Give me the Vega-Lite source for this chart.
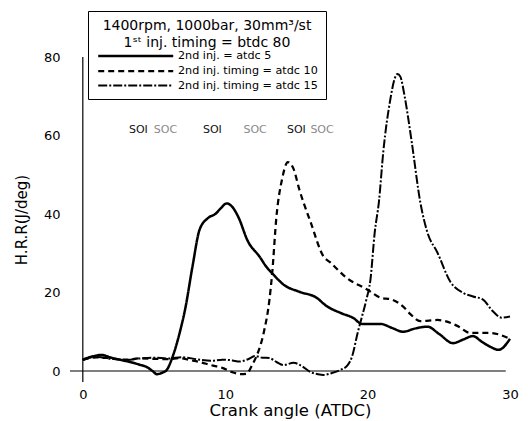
{
  "$schema": "https://vega.github.io/schema/vega-lite/v6.json",
  "width": 440,
  "height": 325,
  "autosize": {"type": "none"},
  "padding": {"left": 70, "top": 57, "right": 18, "bottom": 39},
  "background": "white",
  "config": {
    "view": {"stroke": null},
    "font": "DejaVu Sans"
  },
  "datasets": {
    "axisLines": [
      {"angle": 0, "angle2": 0, "hrr": -2.8, "hrr2": 80},
      {"angle": -0.9, "angle2": 29.7, "hrr": 0, "hrr2": 0}
    ],
    "curves": [
      {"series": "2nd inj. = atdc 5", "angle": 0, "hrr": 2.8},
      {"series": "2nd inj. = atdc 5", "angle": 0.3, "hrr": 3.3},
      {"series": "2nd inj. = atdc 5", "angle": 0.8, "hrr": 3.8},
      {"series": "2nd inj. = atdc 5", "angle": 1.3, "hrr": 4.1},
      {"series": "2nd inj. = atdc 5", "angle": 2, "hrr": 3.4},
      {"series": "2nd inj. = atdc 5", "angle": 2.7, "hrr": 2.8},
      {"series": "2nd inj. = atdc 5", "angle": 3.3, "hrr": 2.3},
      {"series": "2nd inj. = atdc 5", "angle": 4, "hrr": 1.6},
      {"series": "2nd inj. = atdc 5", "angle": 4.5, "hrr": 1.0},
      {"series": "2nd inj. = atdc 5", "angle": 4.9, "hrr": 0},
      {"series": "2nd inj. = atdc 5", "angle": 5.2, "hrr": -0.8},
      {"series": "2nd inj. = atdc 5", "angle": 5.6, "hrr": -0.4},
      {"series": "2nd inj. = atdc 5", "angle": 5.9, "hrr": 0.3},
      {"series": "2nd inj. = atdc 5", "angle": 6.3, "hrr": 3.6},
      {"series": "2nd inj. = atdc 5", "angle": 6.8, "hrr": 9.7},
      {"series": "2nd inj. = atdc 5", "angle": 7.2, "hrr": 16},
      {"series": "2nd inj. = atdc 5", "angle": 7.7, "hrr": 26.6},
      {"series": "2nd inj. = atdc 5", "angle": 8.2, "hrr": 36},
      {"series": "2nd inj. = atdc 5", "angle": 8.8, "hrr": 39},
      {"series": "2nd inj. = atdc 5", "angle": 9.3, "hrr": 40},
      {"series": "2nd inj. = atdc 5", "angle": 9.7, "hrr": 41.5},
      {"series": "2nd inj. = atdc 5", "angle": 10.1, "hrr": 42.7},
      {"series": "2nd inj. = atdc 5", "angle": 10.5, "hrr": 41.8},
      {"series": "2nd inj. = atdc 5", "angle": 10.9, "hrr": 39.4},
      {"series": "2nd inj. = atdc 5", "angle": 11.6, "hrr": 33},
      {"series": "2nd inj. = atdc 5", "angle": 12.4, "hrr": 29.2},
      {"series": "2nd inj. = atdc 5", "angle": 12.9, "hrr": 26.5},
      {"series": "2nd inj. = atdc 5", "angle": 13.4, "hrr": 24.5},
      {"series": "2nd inj. = atdc 5", "angle": 14.1, "hrr": 22},
      {"series": "2nd inj. = atdc 5", "angle": 15.2, "hrr": 20.2},
      {"series": "2nd inj. = atdc 5", "angle": 16.4, "hrr": 18.7},
      {"series": "2nd inj. = atdc 5", "angle": 17.1, "hrr": 16.6},
      {"series": "2nd inj. = atdc 5", "angle": 18.1, "hrr": 14.8},
      {"series": "2nd inj. = atdc 5", "angle": 19.0, "hrr": 13.5},
      {"series": "2nd inj. = atdc 5", "angle": 19.6, "hrr": 12},
      {"series": "2nd inj. = atdc 5", "angle": 20.9, "hrr": 12},
      {"series": "2nd inj. = atdc 5", "angle": 21.7, "hrr": 11},
      {"series": "2nd inj. = atdc 5", "angle": 22.5, "hrr": 10},
      {"series": "2nd inj. = atdc 5", "angle": 23.3, "hrr": 10.8},
      {"series": "2nd inj. = atdc 5", "angle": 24.2, "hrr": 11.3},
      {"series": "2nd inj. = atdc 5", "angle": 25, "hrr": 9.5},
      {"series": "2nd inj. = atdc 5", "angle": 26, "hrr": 7.1},
      {"series": "2nd inj. = atdc 5", "angle": 26.7, "hrr": 8.0},
      {"series": "2nd inj. = atdc 5", "angle": 27.4, "hrr": 8.9},
      {"series": "2nd inj. = atdc 5", "angle": 28, "hrr": 7.5},
      {"series": "2nd inj. = atdc 5", "angle": 28.6, "hrr": 6.2},
      {"series": "2nd inj. = atdc 5", "angle": 29.2, "hrr": 5.4},
      {"series": "2nd inj. = atdc 5", "angle": 30, "hrr": 8.2},

      {"series": "2nd inj. timing = atdc 10", "angle": 0, "hrr": 2.8},
      {"series": "2nd inj. timing = atdc 10", "angle": 1, "hrr": 3.5},
      {"series": "2nd inj. timing = atdc 10", "angle": 2, "hrr": 3.2},
      {"series": "2nd inj. timing = atdc 10", "angle": 3, "hrr": 2.9},
      {"series": "2nd inj. timing = atdc 10", "angle": 4, "hrr": 3.2},
      {"series": "2nd inj. timing = atdc 10", "angle": 5, "hrr": 3.1},
      {"series": "2nd inj. timing = atdc 10", "angle": 6, "hrr": 3.0},
      {"series": "2nd inj. timing = atdc 10", "angle": 6.8, "hrr": 3.3},
      {"series": "2nd inj. timing = atdc 10", "angle": 7.5, "hrr": 2.8},
      {"series": "2nd inj. timing = atdc 10", "angle": 8.2, "hrr": 2.3},
      {"series": "2nd inj. timing = atdc 10", "angle": 9, "hrr": 1.5},
      {"series": "2nd inj. timing = atdc 10", "angle": 9.8, "hrr": 0.8},
      {"series": "2nd inj. timing = atdc 10", "angle": 10.5, "hrr": -0.3},
      {"series": "2nd inj. timing = atdc 10", "angle": 11.1, "hrr": -0.8},
      {"series": "2nd inj. timing = atdc 10", "angle": 11.5, "hrr": -0.7},
      {"series": "2nd inj. timing = atdc 10", "angle": 11.9, "hrr": 1.6},
      {"series": "2nd inj. timing = atdc 10", "angle": 12.2, "hrr": 3.8},
      {"series": "2nd inj. timing = atdc 10", "angle": 12.7, "hrr": 9.7},
      {"series": "2nd inj. timing = atdc 10", "angle": 13.1, "hrr": 18},
      {"series": "2nd inj. timing = atdc 10", "angle": 13.3, "hrr": 25},
      {"series": "2nd inj. timing = atdc 10", "angle": 13.6, "hrr": 39.4},
      {"series": "2nd inj. timing = atdc 10", "angle": 14.0, "hrr": 49},
      {"series": "2nd inj. timing = atdc 10", "angle": 14.4, "hrr": 53.2},
      {"series": "2nd inj. timing = atdc 10", "angle": 14.8, "hrr": 51.5},
      {"series": "2nd inj. timing = atdc 10", "angle": 15.2, "hrr": 46.3},
      {"series": "2nd inj. timing = atdc 10", "angle": 16.0, "hrr": 37.9},
      {"series": "2nd inj. timing = atdc 10", "angle": 16.9, "hrr": 29.2},
      {"series": "2nd inj. timing = atdc 10", "angle": 17.4, "hrr": 27.6},
      {"series": "2nd inj. timing = atdc 10", "angle": 18.5, "hrr": 23.8},
      {"series": "2nd inj. timing = atdc 10", "angle": 20, "hrr": 20.7},
      {"series": "2nd inj. timing = atdc 10", "angle": 20.9, "hrr": 18.7},
      {"series": "2nd inj. timing = atdc 10", "angle": 21.7, "hrr": 18.2},
      {"series": "2nd inj. timing = atdc 10", "angle": 22.5, "hrr": 16.4},
      {"series": "2nd inj. timing = atdc 10", "angle": 23.0, "hrr": 14.5},
      {"series": "2nd inj. timing = atdc 10", "angle": 23.7, "hrr": 12.7},
      {"series": "2nd inj. timing = atdc 10", "angle": 24.9, "hrr": 13},
      {"series": "2nd inj. timing = atdc 10", "angle": 26.3, "hrr": 11.5},
      {"series": "2nd inj. timing = atdc 10", "angle": 27.2, "hrr": 9.7},
      {"series": "2nd inj. timing = atdc 10", "angle": 28.6, "hrr": 9.7},
      {"series": "2nd inj. timing = atdc 10", "angle": 30, "hrr": 8.2},

      {"series": "2nd inj. timing = atdc 15", "angle": 0, "hrr": 3.0},
      {"series": "2nd inj. timing = atdc 15", "angle": 1, "hrr": 3.6},
      {"series": "2nd inj. timing = atdc 15", "angle": 2, "hrr": 3.1},
      {"series": "2nd inj. timing = atdc 15", "angle": 3, "hrr": 2.8},
      {"series": "2nd inj. timing = atdc 15", "angle": 4, "hrr": 3.2},
      {"series": "2nd inj. timing = atdc 15", "angle": 5, "hrr": 3.4},
      {"series": "2nd inj. timing = atdc 15", "angle": 6, "hrr": 3.2},
      {"series": "2nd inj. timing = atdc 15", "angle": 7, "hrr": 3.5},
      {"series": "2nd inj. timing = atdc 15", "angle": 8, "hrr": 3.0},
      {"series": "2nd inj. timing = atdc 15", "angle": 9, "hrr": 2.6},
      {"series": "2nd inj. timing = atdc 15", "angle": 9.8, "hrr": 2.9},
      {"series": "2nd inj. timing = atdc 15", "angle": 10.5, "hrr": 2.7},
      {"series": "2nd inj. timing = atdc 15", "angle": 11, "hrr": 2.4},
      {"series": "2nd inj. timing = atdc 15", "angle": 11.6, "hrr": 3.0},
      {"series": "2nd inj. timing = atdc 15", "angle": 12.1, "hrr": 3.8},
      {"series": "2nd inj. timing = atdc 15", "angle": 12.6, "hrr": 3.4},
      {"series": "2nd inj. timing = atdc 15", "angle": 13.1, "hrr": 3.3},
      {"series": "2nd inj. timing = atdc 15", "angle": 13.6, "hrr": 2.3},
      {"series": "2nd inj. timing = atdc 15", "angle": 14.1, "hrr": 1.5},
      {"series": "2nd inj. timing = atdc 15", "angle": 14.8, "hrr": 2.1},
      {"series": "2nd inj. timing = atdc 15", "angle": 15.4, "hrr": 1.2},
      {"series": "2nd inj. timing = atdc 15", "angle": 16, "hrr": -0.3},
      {"series": "2nd inj. timing = atdc 15", "angle": 16.5, "hrr": -0.8},
      {"series": "2nd inj. timing = atdc 15", "angle": 16.9, "hrr": -1.0},
      {"series": "2nd inj. timing = atdc 15", "angle": 17.5, "hrr": -0.5},
      {"series": "2nd inj. timing = atdc 15", "angle": 18.1, "hrr": 0.3},
      {"series": "2nd inj. timing = atdc 15", "angle": 18.6, "hrr": 1.5},
      {"series": "2nd inj. timing = atdc 15", "angle": 18.9, "hrr": 3.6},
      {"series": "2nd inj. timing = atdc 15", "angle": 19.3, "hrr": 9.7},
      {"series": "2nd inj. timing = atdc 15", "angle": 19.6, "hrr": 13.8},
      {"series": "2nd inj. timing = atdc 15", "angle": 19.9, "hrr": 18},
      {"series": "2nd inj. timing = atdc 15", "angle": 20.2, "hrr": 23.3},
      {"series": "2nd inj. timing = atdc 15", "angle": 20.5, "hrr": 35.3},
      {"series": "2nd inj. timing = atdc 15", "angle": 20.8, "hrr": 43.3},
      {"series": "2nd inj. timing = atdc 15", "angle": 21.1, "hrr": 55.8},
      {"series": "2nd inj. timing = atdc 15", "angle": 21.6, "hrr": 69.3},
      {"series": "2nd inj. timing = atdc 15", "angle": 21.9, "hrr": 74.5},
      {"series": "2nd inj. timing = atdc 15", "angle": 22.1, "hrr": 75.7},
      {"series": "2nd inj. timing = atdc 15", "angle": 22.3, "hrr": 75},
      {"series": "2nd inj. timing = atdc 15", "angle": 22.6, "hrr": 70},
      {"series": "2nd inj. timing = atdc 15", "angle": 23.1, "hrr": 58.3},
      {"series": "2nd inj. timing = atdc 15", "angle": 23.7, "hrr": 43},
      {"series": "2nd inj. timing = atdc 15", "angle": 24.2, "hrr": 35.3},
      {"series": "2nd inj. timing = atdc 15", "angle": 24.9, "hrr": 30.2},
      {"series": "2nd inj. timing = atdc 15", "angle": 25.8, "hrr": 22.8},
      {"series": "2nd inj. timing = atdc 15", "angle": 26.7, "hrr": 19.9},
      {"series": "2nd inj. timing = atdc 15", "angle": 27.4, "hrr": 19},
      {"series": "2nd inj. timing = atdc 15", "angle": 28.1, "hrr": 18.2},
      {"series": "2nd inj. timing = atdc 15", "angle": 28.8, "hrr": 15.2},
      {"series": "2nd inj. timing = atdc 15", "angle": 29.4, "hrr": 13.6},
      {"series": "2nd inj. timing = atdc 15", "angle": 30, "hrr": 13.9}
    ],
    "events": [
      {"angle": 3.9, "hrr": 61.4, "label": "SOI", "kind": "SOI"},
      {"angle": 5.8, "hrr": 61.4, "label": "SOC", "kind": "SOC"},
      {"angle": 9.1, "hrr": 61.4, "label": "SOI", "kind": "SOI"},
      {"angle": 12.1, "hrr": 61.4, "label": "SOC", "kind": "SOC"},
      {"angle": 15.0, "hrr": 61.4, "label": "SOI", "kind": "SOI"},
      {"angle": 16.8, "hrr": 61.4, "label": "SOC", "kind": "SOC"}
    ]
  },
  "encoding": {
    "x": {
      "field": "angle",
      "type": "quantitative",
      "scale": {"domain": [-0.9, 30], "nice": false, "zero": false},
      "axis": {
        "values": [0, 10, 20, 30],
        "format": "d",
        "domain": false,
        "ticks": false,
        "grid": false,
        "labelFont": "DejaVu Sans",
        "labelFontSize": 13,
        "labelColor": "black",
        "labelPadding": 6,
        "labelFlush": false,
        "title": "Crank angle (ATDC)",
        "titleFont": "DejaVu Sans",
        "titleFontSize": 16.5,
        "titleFontWeight": "normal",
        "titleColor": "black",
        "titlePadding": 1
      }
    },
    "y": {
      "field": "hrr",
      "type": "quantitative",
      "scale": {"domain": [-2.8, 80], "nice": false, "zero": false},
      "axis": {
        "values": [0, 20, 40, 60, 80],
        "format": "d",
        "domain": false,
        "ticks": false,
        "grid": false,
        "labelFont": "DejaVu Sans",
        "labelFontSize": 13,
        "labelColor": "black",
        "labelPadding": 10,
        "labelFlush": false,
        "title": "H.R.R(J/deg)",
        "titleFont": "DejaVu Sans",
        "titleFontSize": 15,
        "titleFontWeight": "normal",
        "titleColor": "black",
        "titlePadding": 14
      }
    }
  },
  "layer": [
    {
      "data": {"name": "axisLines"},
      "mark": {"type": "rule", "color": "black", "strokeWidth": 1.2},
      "encoding": {
        "x2": {"field": "angle2"},
        "y2": {"field": "hrr2"}
      }
    },
    {
      "data": {"name": "curves"},
      "mark": {"type": "line", "color": "black", "interpolate": "monotone"},
      "encoding": {
        "detail": {"field": "series"},
        "strokeDash": {
          "field": "series",
          "type": "nominal",
          "scale": {
            "domain": ["2nd inj. = atdc 5", "2nd inj. timing = atdc 10", "2nd inj. timing = atdc 15"],
            "range": [[1, 0], [6, 4], [9, 2, 2, 2]]
          },
          "legend": {
            "orient": "none",
            "legendX": 18,
            "legendY": -46,
            "title": ["1400rpm, 1000bar, 30mm³/st", "1ˢᵗ inj. timing = btdc 80"],
            "titleFont": "DejaVu Sans",
            "titleFontSize": 14,
            "titleFontWeight": "normal",
            "titleColor": "black",
            "titleLineHeight": 16.5,
            "titlePadding": -1,
            "titleLimit": 400,
            "titleAnchor": "middle",
            "labelFont": "DejaVu Sans",
            "labelFontSize": 11.2,
            "labelColor": "black",
            "labelLimit": 300,
            "labelOffset": 67,
            "symbolType": "M-0.88,0H11.62",
            "symbolSize": 144,
            "symbolStrokeColor": "black",
            "symbolFillColor": "transparent",
            "rowPadding": 2,
            "padding": 8,
            "strokeColor": "black",
            "fillColor": "white"
          }
        },
        "strokeWidth": {
          "field": "series",
          "type": "nominal",
          "scale": {
            "domain": ["2nd inj. = atdc 5", "2nd inj. timing = atdc 10", "2nd inj. timing = atdc 15"],
            "range": [2.5, 2, 1.3]
          },
          "legend": null
        }
      }
    },
    {
      "data": {"name": "events"},
      "mark": {"type": "text", "font": "DejaVu Sans", "fontSize": 11},
      "encoding": {
        "text": {"field": "label"},
        "color": {
          "field": "kind",
          "type": "nominal",
          "scale": {"domain": ["SOI", "SOC"], "range": ["#111111", "#8a8a8a"]},
          "legend": null
        }
      }
    }
  ]
}
